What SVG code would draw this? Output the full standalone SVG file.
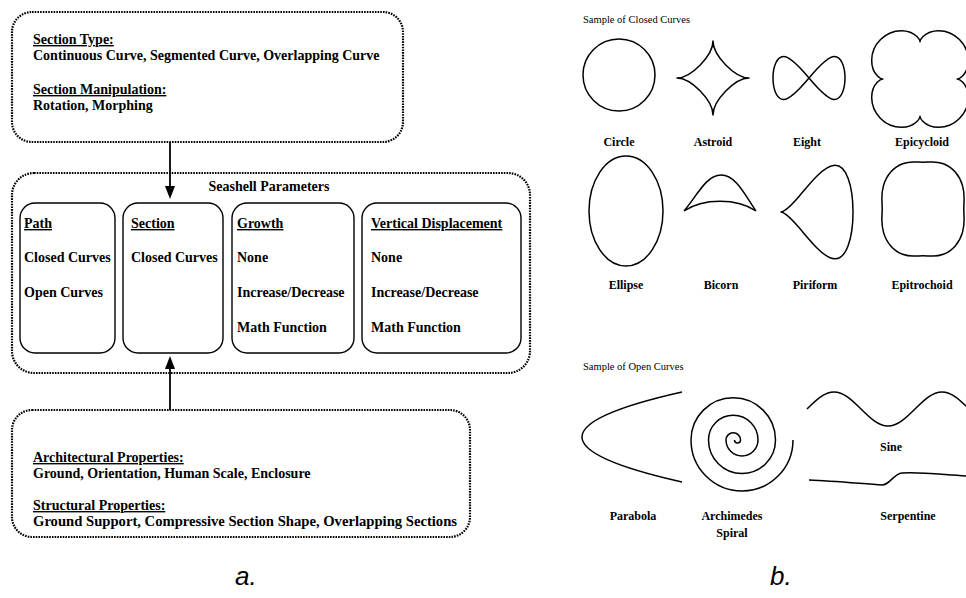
<svg xmlns="http://www.w3.org/2000/svg" width="966" height="598" viewBox="0 0 966 598">
<style>
.t{font-family:"Liberation Serif","Times New Roman",serif;font-weight:bold;font-size:14px;fill:#000}
.u{text-decoration:underline}
.dot{fill:none;stroke:#000;stroke-width:2.2;stroke-dasharray:1.6 1.1}
.box{fill:none;stroke:#000;stroke-width:1.4}
.cv{fill:none;stroke:#000;stroke-width:1.5;stroke-linejoin:round}
.lb{font-family:"Liberation Serif","Times New Roman",serif;font-weight:bold;font-size:12px;fill:#000;text-anchor:middle}
.hd{font-family:"Liberation Serif","Times New Roman",serif;font-size:10.5px;fill:#000}
.fig{font-family:"Liberation Sans",Arial,sans-serif;font-style:italic;font-size:26px;fill:#000}
.ln{stroke:#000;stroke-width:1.8}
</style>
<rect width="966" height="598" fill="#fff"/>

<g id="top-box">
<rect class="dot" x="12" y="12" width="391" height="130" rx="20"/>
<text class="t u" x="33" y="44">Section Type:</text>
<text class="t" x="33" y="60">Continuous Curve, Segmented Curve, Overlapping Curve</text>
<text class="t u" x="33" y="94">Section Manipulation:</text>
<text class="t" x="33" y="110">Rotation, Morphing</text>
</g>

<g id="seashell-parameters">
<rect class="dot" x="12" y="173" width="518" height="200" rx="22"/>
<text class="t" x="269" y="191" text-anchor="middle">Seashell Parameters</text>
</g>

<g id="path-box">
<rect class="box" x="20" y="203" width="95" height="150" rx="15"/>
<text class="t u" x="24" y="228">Path</text>
<text class="t" x="24" y="262">Closed Curves</text>
<text class="t" x="24" y="297">Open Curves</text>
</g>

<g id="section-box">
<rect class="box" x="123" y="203" width="100" height="150" rx="15"/>
<text class="t u" x="131" y="228">Section</text>
<text class="t" x="131" y="262">Closed Curves</text>
</g>

<g id="growth-box">
<rect class="box" x="232" y="203" width="122" height="150" rx="15"/>
<text class="t u" x="237" y="228">Growth</text>
<text class="t" x="237" y="262">None</text>
<text class="t" x="237" y="297">Increase/Decrease</text>
<text class="t" x="237" y="332">Math Function</text>
</g>

<g id="vertical-displacement-box">
<rect class="box" x="362" y="203" width="159" height="150" rx="15"/>
<text class="t u" x="371" y="228">Vertical Displacement</text>
<text class="t" x="371" y="262">None</text>
<text class="t" x="371" y="297">Increase/Decrease</text>
<text class="t" x="371" y="332">Math Function</text>
</g>

<g id="bottom-box">
<rect class="dot" x="12" y="410" width="458" height="127" rx="20"/>
<text class="t u" x="33" y="462">Architectural Properties:</text>
<text class="t" x="33" y="478">Ground, Orientation, Human Scale, Enclosure</text>
<text class="t u" x="33" y="510">Structural Properties:</text>
<text class="t" x="33" y="526" textLength="424" lengthAdjust="spacingAndGlyphs">Ground Support, Compressive Section Shape, Overlapping Sections</text>
</g>

<g id="connectors">
<line class="ln" x1="170" y1="142" x2="170" y2="189"/>
<polygon points="170,199 165,186 175,186" fill="#000"/>
<line class="ln" x1="170" y1="410" x2="170" y2="366"/>
<polygon points="170,356 165,369 175,369" fill="#000"/>
</g>

<text id="label-a" class="fig" x="235" y="585">a.</text>

<g id="closed-curves">
<text class="hd" x="583" y="23">Sample of Closed Curves</text>
<circle class="cv" cx="619" cy="75" r="36"/>
<path class="cv" d="M749,78 C735,78 713,100.5 713,115 C713,100.5 691,78 677,78 C691,78 713,55.5 713,41 C713,55.5 735,78 749,78 Z"/>
<path class="cv" transform="translate(809,78)" d="M0,0 C9.42,11.26 18.79,21.5 25.46,21.5 C32.13,21.5 36,11.26 36,0 C36,-11.26 32.13,-21.5 25.46,-21.5 C18.79,-21.5 9.42,-11.26 0,0 C-9.42,11.26 -18.79,21.5 -25.46,21.5 C-32.13,21.5 -36,11.26 -36,0 C-36,-11.26 -32.13,-21.5 -25.46,-21.5 C-18.79,-21.5 -9.42,-11.26 0,0 Z"/>
<path class="cv" transform="translate(920,79)" d="M37.2,0 C37.2,0 39.64,0.18 42.51,3.05 C45.38,5.92 48.32,11.57 48.32,18.6 C48.32,25.63 45.2,33.72 39.46,39.46 C33.72,45.2 25.63,48.32 18.6,48.32 C11.57,48.32 5.92,45.38 3.05,42.51 C0.18,39.64 0,37.2 0,37.2 C0,37.2 -0.18,39.64 -3.05,42.51 C-5.92,45.38 -11.57,48.32 -18.6,48.32 C-25.63,48.32 -33.72,45.2 -39.46,39.46 C-45.2,33.72 -48.32,25.63 -48.32,18.6 C-48.32,11.57 -45.38,5.92 -42.51,3.05 C-39.64,0.18 -37.2,0 -37.2,0 C-37.2,0 -39.64,-0.18 -42.51,-3.05 C-45.38,-5.92 -48.32,-11.57 -48.32,-18.6 C-48.32,-25.63 -45.2,-33.72 -39.46,-39.46 C-33.72,-45.2 -25.63,-48.32 -18.6,-48.32 C-11.57,-48.32 -5.92,-45.38 -3.05,-42.51 C-0.18,-39.64 0,-37.2 0,-37.2 C0,-37.2 0.18,-39.64 3.05,-42.51 C5.92,-45.38 11.57,-48.32 18.6,-48.32 C25.63,-48.32 33.72,-45.2 39.46,-39.46 C45.2,-33.72 48.32,-25.63 48.32,-18.6 C48.32,-11.57 45.38,-5.92 42.51,-3.05 C39.64,-0.18 37.2,0 37.2,0 Z"/>
<text class="lb" x="619" y="146">Circle</text>
<text class="lb" x="713" y="146">Astroid</text>
<text class="lb" x="807" y="146">Eight</text>
<text class="lb" x="922" y="146">Epicycloid</text>

<ellipse class="cv" cx="626" cy="211" rx="37" ry="55"/>
<path class="cv" d="M684,211 C697,196 706,175 721,175 C736,175 745,195 756,211 M684,211 C703,198 737,198 756,211"/>
<path class="cv" transform="translate(781,212)" d="M0,0 C0,0 1.68,0.11 4.82,2.41 C7.96,4.71 12.56,9.31 18,15.59 C23.44,21.87 29.72,29.72 36,36 C42.28,42.28 48.56,46.77 54,46.77 C59.44,46.77 64.04,42.17 67.18,33.59 C70.32,25.01 72,12.57 72,0 C72,-12.57 70.32,-25.01 67.18,-33.59 C64.04,-42.17 59.44,-46.77 54,-46.77 C48.56,-46.77 42.28,-42.28 36,-36 C29.72,-29.72 23.44,-21.87 18,-15.59 C12.56,-9.31 7.96,-4.71 4.82,-2.41 C1.68,-0.11 0,0 0,0 Z"/>
<path class="cv" vector-effect="non-scaling-stroke" transform="translate(923,209) scale(0.96,1.1)" d="M42.5,0 C42.5,2.84 42.78,5.72 42.82,9.23 C42.86,12.74 42.56,16.9 41.14,21.25 C39.72,25.6 37.14,30.04 33.59,33.59 C30.04,37.14 25.6,39.72 21.25,41.14 C16.9,42.56 12.74,42.86 9.23,42.82 C5.72,42.78 2.84,42.5 0,42.5 C-2.84,42.5 -5.72,42.78 -9.23,42.82 C-12.74,42.86 -16.9,42.56 -21.25,41.14 C-25.6,39.72 -30.04,37.14 -33.59,33.59 C-37.14,30.04 -39.72,25.6 -41.14,21.25 C-42.56,16.9 -42.86,12.74 -42.82,9.23 C-42.78,5.72 -42.5,2.84 -42.5,0 C-42.5,-2.84 -42.78,-5.72 -42.82,-9.23 C-42.86,-12.74 -42.56,-16.9 -41.14,-21.25 C-39.72,-25.6 -37.14,-30.04 -33.59,-33.59 C-30.04,-37.14 -25.6,-39.72 -21.25,-41.14 C-16.9,-42.56 -12.74,-42.86 -9.23,-42.82 C-5.72,-42.78 -2.84,-42.5 0,-42.5 C2.84,-42.5 5.72,-42.78 9.23,-42.82 C12.74,-42.86 16.9,-42.56 21.25,-41.14 C25.6,-39.72 30.04,-37.14 33.59,-33.59 C37.14,-30.04 39.72,-25.6 41.14,-21.25 C42.56,-16.9 42.86,-12.74 42.82,-9.23 C42.78,-5.72 42.5,-2.84 42.5,0 Z"/>
<text class="lb" x="626" y="289">Ellipse</text>
<text class="lb" x="721" y="289">Bicorn</text>
<text class="lb" x="815" y="289">Piriform</text>
<text class="lb" x="922" y="289">Epitrochoid</text>
</g>

<g id="open-curves">
<text class="hd" x="583" y="370">Sample of Open Curves</text>
<path class="cv" d="M682,392 Q482,437 682,482"/>
<path class="cv" d="M793,440 A51,51 0 0 1 691,440 A42.25,42.25 0 0 1 775.5,440 A33.5,33.5 0 0 1 708.5,440 A24.75,24.75 0 0 1 758,440 A16,16 0 0 1 726,440 A7.25,7.25 0 0 1 740.5,440 A3,3 0 0 1 734.5,440"/>
<path class="cv" d="M807,409 C816.03,400.07 824.33,392 834,392 C843.67,392 851.97,400.07 861,409 C870.03,417.93 878.33,426 888,426 C897.67,426 905.97,417.93 915,409 C924.03,400.07 932.33,392 942,392 C951.67,392 959.97,400.07 969,409"/>
<path class="cv" d="M809,480 C835,481 865,484 882,485 C890,485 893,474 902,473 C925,472 945,475 968,476"/>
<text class="lb" x="633" y="520">Parabola</text>
<text class="lb" x="732" y="520">Archimedes</text>
<text class="lb" x="732" y="537">Spiral</text>
<text class="lb" x="891" y="451">Sine</text>
<text class="lb" x="908" y="520">Serpentine</text>
</g>

<text id="label-b" class="fig" x="770" y="585">b.</text>
</svg>
